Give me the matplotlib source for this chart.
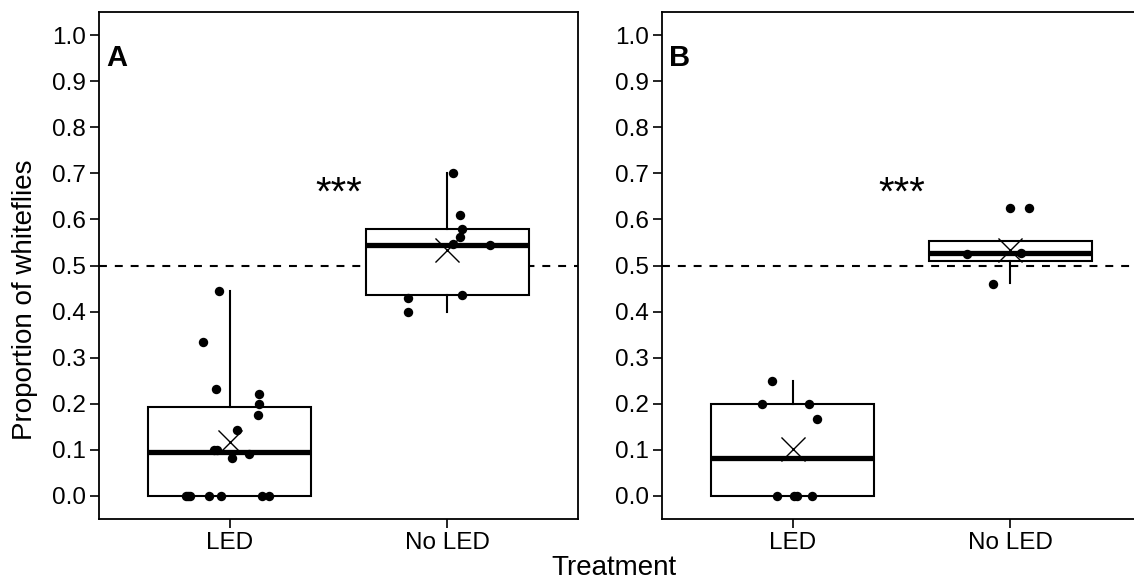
import matplotlib
matplotlib.use("Agg")
import matplotlib.pyplot as plt
import numpy as np

plt.rcParams["font.family"] = ["Liberation Sans", "DejaVu Sans"]

# categories and panel labels
treatments = ["LED", "No LED"]
panel_labels = ["A", "B"]
signif = ["***", "***"]

# box statistics: (q1, median, q3, whisker low, whisker high, mean)
box_a = [(0.000, 0.095, 0.194, 0.000, 0.444, 0.118),
         (0.437, 0.545, 0.579, 0.400, 0.700, 0.534)]
box_b = [(0.000, 0.083, 0.200, 0.000, 0.250, 0.102),
         (0.509, 0.528, 0.553, 0.462, 0.553, 0.533)]

# individual observations and their horizontal jitter
a_led = [0.444, 0.333, 0.231, 0.222, 0.200, 0.176, 0.143, 0.100, 0.100,
         0.091, 0.083, 0, 0, 0, 0, 0, 0, 0]
a_led_jit = [-0.049, -0.123, -0.064, 0.134, 0.137, 0.129, 0.035, -0.074, -0.060,
             0.091, 0.012, -0.201, -0.181, -0.190, -0.095, -0.041, 0.150, 0.180]
a_noled = [0.700, 0.609, 0.579, 0.562, 0.546, 0.545, 0.437, 0.429, 0.400]
a_noled_jit = [0.024, 0.057, 0.069, 0.057, 0.024, 0.194, 0.067, -0.179, -0.179]
b_led = [0.250, 0.200, 0.200, 0.167, 0, 0, 0, 0]
b_led_jit = [-0.094, -0.141, 0.075, 0.113, -0.074, 0.005, 0.020, 0.089]
b_noled = [0.625, 0.625, 0.528, 0.526, 0.460]
b_noled_jit = [0.000, 0.087, 0.047, -0.200, -0.079]

panels = [
    (box_a, [(a_led, a_led_jit), (a_noled, a_noled_jit)]),
    (box_b, [(b_led, b_led_jit), (b_noled, b_noled_jit)]),
]

W, H = 1134, 580
fig = plt.figure(figsize=(W / 100, H / 100), dpi=100)
lefts = [99, 662]

for i, (boxes, points) in enumerate(panels):
    ax = fig.add_axes([lefts[i] / W, 61 / H, 479 / W, 507 / H])
    ax.axhline(0.5, color="black", lw=1.5, ls=(0, (3.8, 3.8)), zorder=1)

    stats = []
    for q1, med, q3, lo, hi, mean in boxes:
        stats.append({"q1": q1, "med": med, "q3": q3, "whislo": lo,
                      "whishi": hi, "mean": mean, "fliers": []})
    ax.bxp(stats, positions=[1, 2], widths=0.75, showcaps=False,
           showfliers=False, patch_artist=True,
           boxprops=dict(facecolor="white", edgecolor="black", linewidth=1.5),
           whiskerprops=dict(color="black", linewidth=1.5),
           medianprops=dict(color="black", linewidth=3.8, solid_capstyle="butt"),
           zorder=2)

    for k, (vals, jit) in enumerate(points):
        xs = np.array(jit) + k + 1
        ax.scatter(xs, vals, s=46, color="black", zorder=4, linewidths=0)

    means = [b[5] for b in boxes]
    ax.scatter([1, 2], means, marker="x", s=300, color="black",
               linewidths=1.0, zorder=5)

    ax.text(0.48, 0.95, panel_labels[i], fontsize=21, fontweight="bold",
            ha="center", va="center")
    ax.text(1.5, 0.655, signif[i], fontsize=29, ha="center", va="center",
            path_effects=[])

    ax.set_xlim(0.4, 2.6)
    ax.set_ylim(-0.05, 1.05)
    ax.set_xticks([1, 2])
    ax.set_xticklabels(treatments)
    ax.set_yticks(np.arange(0, 1.01, 0.1))
    ax.set_yticklabels([f"{v:.1f}" for v in np.arange(0, 1.01, 0.1)])
    ax.tick_params(labelsize=17.5, length=6.5, width=1.2, pad=3,
                   colors="black")
    for sp in ax.spines.values():
        sp.set_linewidth(1.3)

fig.text(614 / W, 1 - 568 / H, "Treatment", fontsize=20, ha="center", va="center")
fig.text(25 / W, 1 - 300 / H, "Proportion of whiteflies", fontsize=20,
         rotation=90, ha="center", va="center")

fig.savefig("out.png", dpi=100)
